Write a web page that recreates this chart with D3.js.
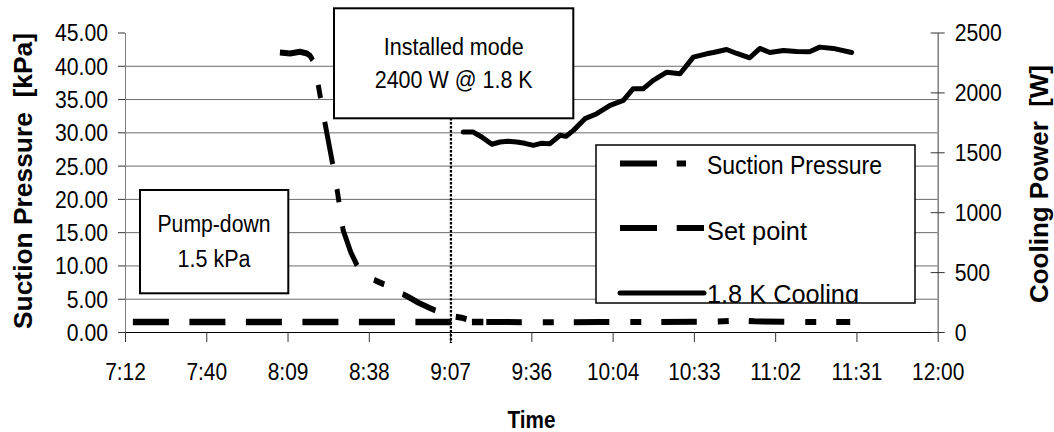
<!DOCTYPE html>
<html>
<head>
<meta charset="utf-8">
<script src="https://cdn.jsdelivr.net/npm/d3@7"></script>
<style>
  body { margin: 0; background: #fff; }
  text { font-family: "Liberation Sans", Arial, sans-serif; fill: #000; }
</style>
</head>
<body>
<div id="output"></div>
<script>
// x axis tick labels (Excel style, every 0.02 day)
var xTickLabels = ['7:12', '7:40', '8:09', '8:38', '9:07', '9:36', '10:04', '10:33', '11:02', '11:31', '12:00'];
var leftTicks = [0, 5, 10, 15, 20, 25, 30, 35, 40, 45];
var rightTicks = [0, 500, 1000, 1500, 2000, 2500];

// Suction pressure [kPa]
var pressureTime = ['8:06:54', '8:10:30', '8:14:00', '8:16:30', '8:17:36', '8:18:36', '8:20:24', '8:22:54',
  '8:25:42', '8:27:18', '8:29:18', '8:32:00', '8:34:54', '8:38:00', '8:42:00', '8:45:12', '8:49:00',
  '8:52:18', '8:56:00', '9:00:00', '9:04:18', '9:08:00', '9:11:48', '9:15:00', '9:18:00', '9:25:00',
  '9:40:00', '10:00:00', '10:20:00', '10:40:00', '10:50:00', '10:55:00', '11:10:00', '11:29:00'];
var pressureKPa = [42.0, 41.85, 42.1, 41.85, 41.5, 40.8, 37.3, 31.3,
  25.0, 21.0, 15.3, 12.0, 9.4, 8.3, 7.5, 6.9, 6.0,
  5.3, 4.4, 3.6, 2.8, 2.4, 2.1, 1.65, 1.5, 1.5,
  1.45, 1.5, 1.5, 1.55, 1.75, 1.6, 1.5, 1.5];

// Set point [kPa]
var setTime = ['7:14:48', '9:19:00'];
var setKPa = [1.5, 1.5];

// 1.8 K cooling power [W]
var coolTime = ['9:11:54', '9:15:24', '9:18:24', '9:22:00', '9:24:54', '9:27:42', '9:30:48', '9:33:42',
  '9:36:42', '9:39:24', '9:42:36', '9:46:12', '9:48:18', '9:50:54', '9:55:00', '9:59:12', '10:03:54',
  '10:08:36', '10:12:06', '10:15:42', '10:19:12', '10:24:00', '10:28:42', '10:33:24', '10:38:06',
  '10:40:30', '10:45:12', '10:48:48', '10:53:24', '10:57:00', '11:00:30', '11:05:18', '11:10:00',
  '11:14:36', '11:18:12', '11:23:00', '11:29:30'];
var coolW = [1669, 1669, 1628, 1567, 1586, 1592, 1586, 1575,
  1558, 1575, 1572, 1642, 1633, 1683, 1781, 1822, 1892,
  1933, 2031, 2031, 2100, 2169, 2156, 2294, 2322,
  2333, 2358, 2325, 2289, 2367, 2333, 2350, 2342,
  2339, 2378, 2367, 2333];

var legendNames = ['Suction Pressure', 'Set point', '1.8 K Cooling'];

function toMin(s) {
  var p = s.split(':').map(Number);
  return p[0] * 60 + p[1] + (p[2] || 0) / 60;
}

// squeeze text horizontally (the original glyphs are narrow)
function squeeze(sel, k) {
  sel.each(function() {
    var w = this.getComputedTextLength();
    d3.select(this).attr('textLength', w * k).attr('lengthAdjust', 'spacingAndGlyphs');
  });
}

var width = 1054;
var height = 432;
var plotLeft = 125, plotRight = 937.7, plotTop = 32.5, plotBottom = 332;
// the original picture was squeezed sideways, so dashes are shorter across than down
var sx = 0.82;

var svg = d3.select('#output')
  .append('svg')
  .attr('width', width)
  .attr('height', height);

var x = d3.scaleLinear().domain([432, 720]).range([plotLeft, plotRight]);
var yL = d3.scaleLinear().domain([0, 45]).range([plotBottom, plotTop]);
var yR = d3.scaleLinear().domain([0, 2500]).range([plotBottom, plotTop]);

// gridlines
svg.append('g')
  .attr('transform', `translate(${plotLeft},0)`)
  .call(d3.axisLeft(yL).tickValues(leftTicks.slice(1, -1)).tickSize(-(plotRight - plotLeft)).tickFormat(''))
  .call(g => g.select('.domain').remove())
  .selectAll('line').attr('stroke', '#6a6a6a').attr('stroke-width', 1);

// Pump-down box
var pump = svg.append('g');
pump.append('rect').attr('x', 140).attr('y', 190).attr('width', 148.3).attr('height', 103.3)
  .attr('fill', '#fff').attr('stroke', '#000').attr('stroke-width', 2);
pump.append('text').attr('x', 214).attr('y', 232.3).attr('text-anchor', 'middle')
  .style('font-size', '23.5px').attr('textLength', 113).attr('lengthAdjust', 'spacingAndGlyphs').text('Pump-down');
pump.append('text').attr('x', 214).attr('y', 266.7).attr('text-anchor', 'middle')
  .style('font-size', '23.5px').attr('textLength', 73).attr('lengthAdjust', 'spacingAndGlyphs').text('1.5 kPa');

// x axis
var xAxis = d3.axisBottom(x)
  .tickValues(xTickLabels.map((_, i) => 432 + i * 28.8))
  .tickFormat((_, i) => xTickLabels[i])
  .tickSize(10)
  .tickSizeOuter(0);

var gx = svg.append('g')
  .attr('transform', `translate(0,${plotBottom})`)
  .call(xAxis);
gx.select('.domain').attr('stroke', '#000');
gx.selectAll('.tick line').attr('stroke', '#333');
gx.selectAll('.tick text').attr('y', 47.5).attr('dy', 0).style('font-size', '23.5px').attr('fill', '#000');
squeeze(gx.selectAll('.tick text'), 0.89);

// left axis
var gl = svg.append('g')
  .attr('transform', `translate(${plotLeft},0)`)
  .call(d3.axisLeft(yL).tickValues(leftTicks).tickFormat(d3.format('.2f')).tickSize(7).tickPadding(10).tickSizeOuter(0));
gl.select('.domain').attr('stroke', '#808080');
gl.selectAll('.tick line').attr('stroke', '#333');
gl.selectAll('.tick text').attr('dy', '0.36em').style('font-size', '23.5px').attr('fill', '#000');
squeeze(gl.selectAll('.tick text'), 0.9);

// right axis (ticks cross the axis)
var gr = svg.append('g')
  .attr('transform', `translate(${plotRight},0)`)
  .call(d3.axisRight(yR).tickValues(rightTicks).tickFormat(d3.format('d')).tickSize(7).tickPadding(10).tickSizeOuter(0));
gr.select('.domain').attr('stroke', '#808080').attr('stroke-width', 1.5);
gr.selectAll('.tick line').attr('stroke', '#333').attr('x1', -7);
gr.selectAll('.tick text').attr('dy', '0.36em').style('font-size', '23.5px').attr('fill', '#000');
squeeze(gr.selectAll('.tick text'), 0.9);

// axis titles
svg.append('text').attr('x', 531.5).attr('y', 428.3).attr('text-anchor', 'middle')
  .style('font-size', '23.5px').style('font-weight', 'bold')
  .attr('textLength', 48).attr('lengthAdjust', 'spacingAndGlyphs').text('Time');

svg.append('text').attr('transform', 'translate(32,181) rotate(-90)').attr('text-anchor', 'middle')
  .style('font-size', '26px').style('font-weight', 'bold').style('white-space', 'pre')
  .attr('textLength', 296).attr('lengthAdjust', 'spacingAndGlyphs')
  .text('Suction Pressure  [kPa]');

svg.append('text').attr('transform', 'translate(1048,184) rotate(-90)').attr('text-anchor', 'middle')
  .style('font-size', '26px').style('font-weight', 'bold').style('white-space', 'pre')
  .attr('textLength', 238).attr('lengthAdjust', 'spacingAndGlyphs')
  .text('Cooling Power  [W]');

// series
var lineL = d3.line().x(d => x(toMin(d[0]))).y(d => yL(d[1]));
var lineR = d3.line().x(d => x(toMin(d[0]))).y(d => yR(d[1]));
var lineWide = d3.line().x(d => x(toMin(d[0])) / sx).y(d => yL(d[1]));

svg.append('path')
  .datum(d3.zip(setTime, setKPa))
  .attr('d', lineL)
  .attr('fill', 'none').attr('stroke', '#000').attr('stroke-width', 6.5)
  .attr('stroke-dasharray', '36,20.5');

// pressure drawn in widened space and squeezed back, so dash lengths follow the original
svg.append('g')
  .attr('transform', `scale(${sx},1)`)
  .append('path')
  .datum(d3.zip(pressureTime, pressureKPa))
  .attr('d', lineWide)
  .attr('fill', 'none').attr('stroke', '#000').attr('stroke-width', 6)
  .attr('stroke-linejoin', 'round')
  .attr('stroke-dasharray', '43.3,25.6,13.4,24.4');

svg.append('path')
  .datum(d3.zip(coolTime, coolW))
  .attr('d', lineR)
  .attr('fill', 'none').attr('stroke', '#000').attr('stroke-width', 5)
  .attr('stroke-linejoin', 'round').attr('stroke-linecap', 'round');

// legend
var lg = svg.append('g');
lg.append('clipPath').attr('id', 'legclip')
  .append('rect').attr('x', 596).attr('y', 145).attr('width', 319).attr('height', 158);
lg.append('rect').attr('x', 596).attr('y', 145).attr('width', 319).attr('height', 158).attr('fill', '#fff');
var items = lg.append('g').attr('clip-path', 'url(#legclip)');
var legY = [163.5, 228, 293];
var legBase = [174, 239.5, 302.5];
var legW = [175, 100, 152];
var legDash = ['37,19.7,9.3,40', '37,19.7', null];
legendNames.forEach(function(name, i) {
  items.append('line').attr('x1', 620).attr('x2', 704).attr('y1', legY[i]).attr('y2', legY[i])
    .attr('stroke', '#000').attr('stroke-width', i == 2 ? 5 : 6)
    .attr('stroke-linecap', i == 2 ? 'round' : 'butt')
    .attr('stroke-dasharray', legDash[i]);
  items.append('text').attr('x', 707).attr('y', legBase[i])
    .style('font-size', '26px').attr('textLength', legW[i]).attr('lengthAdjust', 'spacingAndGlyphs')
    .text(name);
});
lg.append('rect').attr('x', 596).attr('y', 145).attr('width', 319).attr('height', 158)
  .attr('fill', 'none').attr('stroke', '#000').attr('stroke-width', 1.5);

// installed mode marker
svg.append('line').attr('x1', x(toMin('9:07:30'))).attr('x2', x(toMin('9:07:30')))
  .attr('y1', 118).attr('y2', 343)
  .attr('stroke', '#000').attr('stroke-width', 2.3).attr('stroke-dasharray', '2.5,1.5');

var inst = svg.append('g');
inst.append('rect').attr('x', 334).attr('y', 8.3).attr('width', 239.3).attr('height', 110)
  .attr('fill', '#fff').attr('stroke', '#000').attr('stroke-width', 2);
inst.append('text').attr('x', 453.7).attr('y', 55).attr('text-anchor', 'middle')
  .style('font-size', '23.5px').attr('textLength', 140).attr('lengthAdjust', 'spacingAndGlyphs').text('Installed mode');
inst.append('text').attr('x', 453.7).attr('y', 88.3).attr('text-anchor', 'middle')
  .style('font-size', '23.5px').attr('textLength', 158).attr('lengthAdjust', 'spacingAndGlyphs').text('2400 W @ 1.8 K');
</script>
</body>
</html>
